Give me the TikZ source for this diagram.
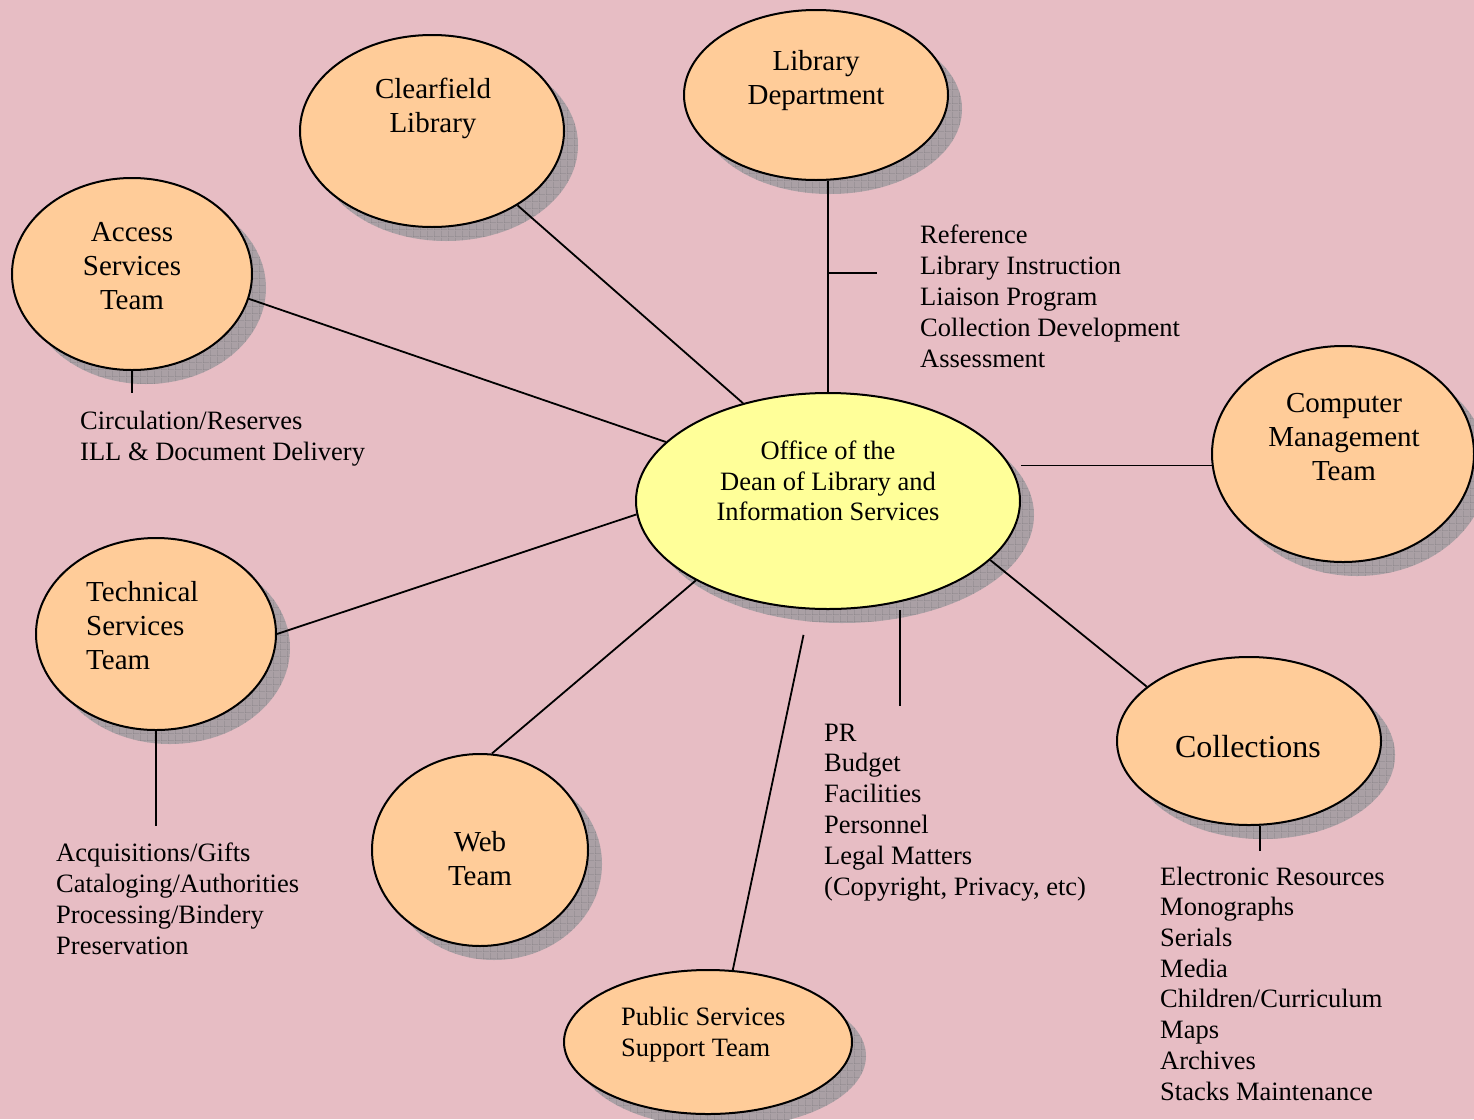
\documentclass[tikz,border=0pt]{standalone}
\usepackage{fontspec}
\setmainfont{Liberation Serif}
\usetikzlibrary{shapes.geometric, shadows, patterns, calc}
\definecolor{bgpink}{RGB}{231,189,196}
\definecolor{peach}{RGB}{255,204,153}
\definecolor{paleyellow}{RGB}{255,255,153}
\definecolor{shadowgray}{RGB}{170,160,165}
\definecolor{gridgray}{RGB}{132,127,131}
% wide grid for the shadows
\pgfdeclarepatternformonly{shadowgrid}{\pgfpointorigin}{\pgfqpoint{7pt}{7pt}}{\pgfqpoint{7pt}{7pt}}{%
	\pgfsetlinewidth{0.7pt}
	\pgfpathmoveto{\pgfqpoint{0pt}{0pt}}\pgfpathlineto{\pgfqpoint{7pt}{0pt}}
	\pgfpathmoveto{\pgfqpoint{0pt}{0pt}}\pgfpathlineto{\pgfqpoint{0pt}{7pt}}
	\pgfusepath{stroke}}

\begin{document}
\begin{tikzpicture}[x=1pt, y=-1pt,
		bubble/.style={ellipse, draw, line width=2pt, fill=peach, inner sep=0pt,
			general shadow={shadow xshift=14pt, shadow yshift=-14pt, fill=shadowgray},
			general shadow={shadow xshift=14pt, shadow yshift=-14pt, pattern=shadowgrid, pattern color=gridgray}},
		bubbletext/.style={align=center, inner sep=0pt, font=\fontsize{29}{34}\selectfont},
		items/.style={align=left, anchor=base west, inner sep=0pt, font=\fontsize{26.5}{31}\selectfont},
		link/.style={line width=1.8pt}]
		% background
		\fill[bgpink] (0,0) rectangle (1474,1119);
		\useasboundingbox (0,0) rectangle (1474,1119);
		
		% bubbles:
		\node[bubble, fill=paleyellow, minimum width=384pt, minimum height=216pt] (dean) at (828,501) {};
		\node[bubble, minimum width=264pt, minimum height=192pt] (clear) at (432,131) {};
		\node[bubble, minimum width=264pt, minimum height=170pt] (lib) at (816,95) {};
		\node[bubble, minimum width=240pt, minimum height=192pt] (acc) at (132,274) {};
		\node[bubble, minimum width=262pt, minimum height=216pt] (comp) at (1343,454) {};
		\node[bubble, minimum width=240pt, minimum height=192pt] (tech) at (156,634) {};
		\node[bubble, minimum width=216pt, minimum height=192pt] (web) at (480,850) {};
		\node[bubble, minimum width=288pt, minimum height=144pt] (pub) at (708,1042) {};
		\node[bubble, minimum width=264pt, minimum height=168pt] (coll) at (1249,741) {};
		
		% bubble texts
		\node[bubbletext, font=\fontsize{26.5}{30.5}\selectfont] (dean-t) at (828,481) {Office of the\\Dean of Library and\\Information Services};
		\node[bubbletext] (clear-t) at (433,108) {Clearfield\\Library};
		\node[bubbletext] (lib-t) at (816,81) {Library\\Department};
		\node[bubbletext] (acc-t) at (132,266) {Access\\Services\\Team};
		\node[bubbletext] (comp-t) at (1344,437) {Computer\\Management\\Team};
		\node[bubbletext, align=left, anchor=west] (tech-t) at (86,626) {Technical\\Services\\Team};
		\node[bubbletext] (web-t) at (480,859) {Web\\Team};
		\node[bubbletext, align=left, anchor=west, font=\fontsize{26.5}{31}\selectfont] (pub-t) at (621,1035) {Public Services\\Support Team};
		\node[bubbletext, font=\fontsize{32}{36}\selectfont] (coll-t) at (1248,747) {Collections};
		
		% duty lists (base = last line)
		\node[items] (lib-l) at (920,367) {Reference\\Library Instruction\\Liaison Program\\Collection Development\\Assessment};
		\node[items] (acc-l) at (80,460) {Circulation/Reserves\\ILL \& Document Delivery};
		\node[items] (tech-l) at (56,954) {Acquisitions/Gifts\\Cataloging/Authorities\\Processing/Bindery\\Preservation};
		\node[items, font=\fontsize{26.5}{30.8}\selectfont] (dean-l) at (824,895) {PR\\Budget\\Facilities\\Personnel\\Legal Matters\\(Copyright, Privacy, etc)};
		\node[items, font=\fontsize{26.5}{30.7}\selectfont] (coll-l) at (1160,1100) {Electronic Resources\\Monographs\\Serials\\Media\\Children/Curriculum\\Maps\\Archives\\Stacks Maintenance};
		
		% links to the dean
		\draw[link] (clear.-41) -- (dean.131);
		\draw[link] (lib.-82) -- (dean.north) coordinate[pos=0.437] (libtick);
		\draw[link] (libtick) -- ++(49,0);
		\draw[link] (acc.-12) -- (dean.160);
		\draw[link] (comp.185) -- (comp.185 -| dean.east);
		\draw[link] (tech.east) -- (dean.184);
		\draw[link] (web.83) -- (dean.211);
		\draw[link, shorten >=26pt] (pub.71) -- (dean.-100);
		\draw[link] (coll.152) -- (dean.-20);
		% ticks to the lists
		\draw[link] (acc.south) -- ++(0,22);
		\draw[link] (tech.south) -- ++(0,95);
		\draw[link] ([xshift=72pt]dean.south) -- ++(0,96);
		\draw[link] ([xshift=11pt]coll.south) -- ++(0,25);
	\end{tikzpicture}
\end{document}
